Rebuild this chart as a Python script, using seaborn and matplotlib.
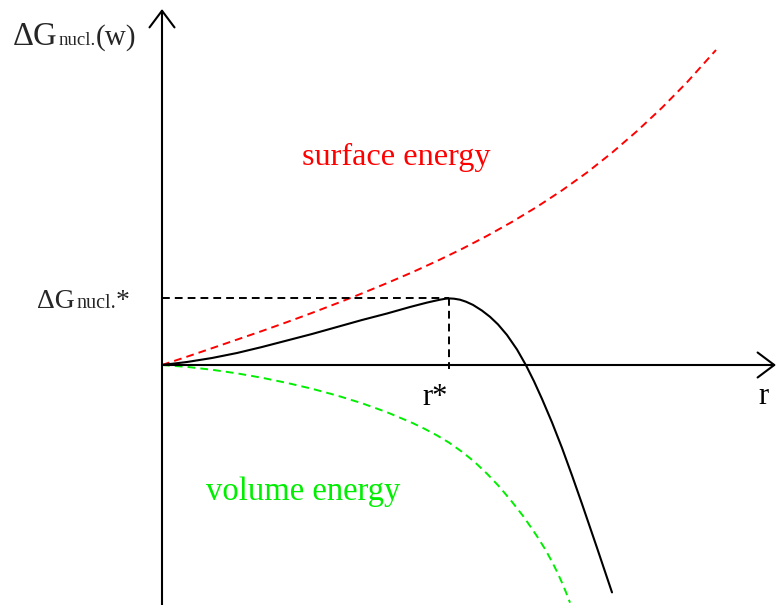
import matplotlib
matplotlib.use("Agg")
import matplotlib.pyplot as plt
import seaborn as sns
import pandas as pd

# ---- data (schematic values) ----
surface_r = [0, 25, 50, 75, 100, 125, 150, 175, 200, 225, 250, 275, 300, 325, 350, 375, 400, 425,
             450, 475, 500, 525, 554]
surface_g = [0, 8.3, 16.8, 25.4, 34, 42.9, 52.1, 61.7, 71.6, 81.9, 92.6, 104, 116.1, 129.1, 143.1,
             158.2, 174.6, 192.5, 212.3, 233.9, 257.3, 282.7, 315]

total_r = [0, 25, 50, 75, 100, 125, 150, 175, 200, 225, 248, 258, 265, 272, 278, 283, 287, 292, 298, 304,
           311, 320, 328, 336, 345, 355, 364, 372, 380, 390, 400, 410, 420, 435, 450]
total_g = [0, 3, 7, 12, 18, 24.5, 31, 38, 45, 51.5, 58, 60.6, 62.4, 64.0, 65.3, 66.2, 66.6, 66.3, 65.3, 63.3,
           60.1, 54.4, 48.2, 40.6, 30, 15.5, -0.3, -16.3, -33.9, -57.4, -82.9, -110.4, -138.9, -182.8, -227.4]

volume_r = [0, 25, 50, 75, 100, 125, 150, 175, 200, 225, 250, 262, 275, 287, 300, 312, 325, 337, 350, 362,
            375, 383, 390, 395, 400, 404, 408]
volume_g = [0, -1.9, -4.75, -8.35, -12.75, -17.9, -23.75, -30.5, -38.25, -47.25, -57.75, -63.5, -70.4,
            -77.6, -86.8, -96.4, -108.7, -121.3, -136.8, -152.2, -171.2, -184, -196.7, -206.7, -217.7,
            -227.3, -237.7]

r_star = 287
g_star = 67

labels = {"surface": "surface energy", "volume": "volume energy"}

sns.set_theme(style="white")
plt.rcParams['font.family'] = ['Liberation Serif', 'DejaVu Serif']

fig = plt.figure(figsize=(7.76, 6.05), dpi=100)
ax = fig.add_axes([0, 0, 1, 1])
ax.set_xlim(-162, 614)
ax.set_ylim(-240, 365)
ax.axis("off")

# axes with open arrowheads
arrow = dict(arrowstyle="->,head_length=0.6,head_width=0.45", color="black", lw=1.5,
             shrinkA=0, shrinkB=0, mutation_scale=20)
ax.annotate("", xy=(0, 356), xytext=(0, -240), arrowprops=arrow, annotation_clip=False)
ax.annotate("", xy=(614, 0), xytext=(0, 0), arrowprops=arrow, annotation_clip=False)

# curves
df_s = pd.DataFrame({"r": surface_r, "G": surface_g})
df_v = pd.DataFrame({"r": volume_r, "G": volume_g})
df_t = pd.DataFrame({"r": total_r, "G": total_g})
sns.lineplot(data=df_s, x="r", y="G", ax=ax, color="#ff0000", lw=1.4,
             linestyle=(0, (4, 2.6)), sort=False, estimator=None)
sns.lineplot(data=df_v, x="r", y="G", ax=ax, color="#00ee00", lw=1.4,
             linestyle=(0, (4, 2.6)), sort=False, estimator=None)
sns.lineplot(data=df_t, x="r", y="G", ax=ax, color="black", lw=1.5,
             sort=False, estimator=None)
for ln in ax.lines:
    ln.set_solid_joinstyle("round")
    ln.set_dash_joinstyle("round")

# critical point guides
ax.plot([0, r_star], [g_star, g_star], color="black", lw=1.4, linestyle=(0, (4, 2.6)))
ax.plot([r_star, r_star], [g_star, -4], color="black", lw=1.4, linestyle=(0, (4, 2.6)))

# texts
ax.text(140, 200, labels["surface"], color="#ff0000", fontsize=23.2, va="baseline", ha="left")
ax.text(44, -135, labels["volume"], color="#00ee00", fontsize=23.5, va="baseline", ha="left")
ax.text(260, -40, "r*", color="black", fontsize=22, va="baseline", ha="left")
ax.text(596, -39, "r", color="black", fontsize=22, va="baseline", ha="left")

ax.text(-149, 320, "ΔG", fontsize=23.5, va="baseline", ha="left")
ax.text(-103, 320, "nucl.", fontsize=13.5, va="baseline", ha="left")
ax.text(-66, 320, "(w)", fontsize=21, va="baseline", ha="left")

ax.text(-125, 57, "ΔG", fontsize=20, va="baseline", ha="left")
ax.text(-86, 57, "nucl.", fontsize=14.5, va="baseline", ha="left")
ax.text(-46, 57, "*", fontsize=20, va="baseline", ha="left")

fig.savefig("out.png", dpi=100)
